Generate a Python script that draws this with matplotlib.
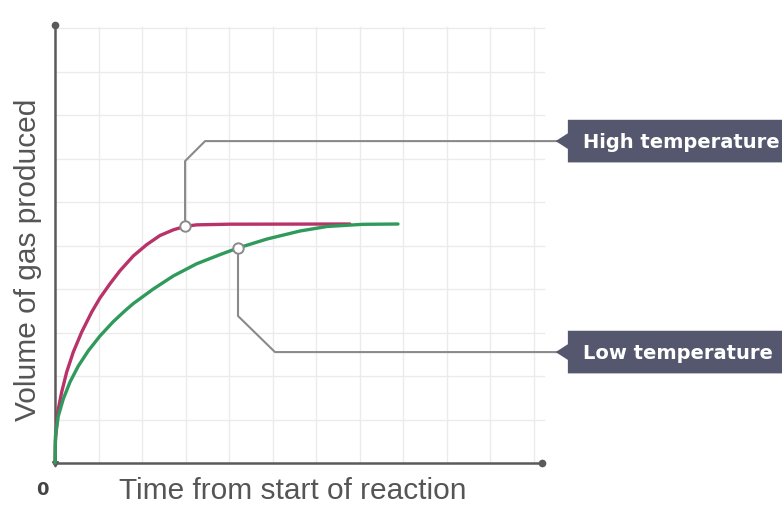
import matplotlib
matplotlib.use("Agg")
import matplotlib.pyplot as plt
from matplotlib.patches import Polygon

# Time (grid units) and gas volume (grid units) for each reaction rate
time_high = [0.0, 0.01, 0.062, 0.154, 0.269, 0.421, 0.614, 0.844, 1.034, 1.264, 1.494,
             1.80, 2.108, 2.414, 2.72, 2.99, 3.257, 4.02, 6.78]
vol_high = [0.0, 0.50, 1.166, 1.632, 2.092, 2.552, 3.011, 3.471, 3.794, 4.12, 4.42,
            4.76, 5.02, 5.23, 5.36, 5.44, 5.475, 5.49, 5.494]

time_low = [0.0, 0.003, 0.005, 0.01, 0.076, 0.19, 0.345, 0.536, 0.766, 1.034, 1.34,
            1.609, 1.80, 2.26, 2.72, 3.257, 3.793, 4.207, 4.874, 5.632, 6.253, 7.08, 7.885]
vol_low = [0.0, 0.10, 0.39, 0.62, 1.08, 1.47, 1.862, 2.23, 2.58, 2.92, 3.25,
           3.50, 3.665, 4.00, 4.30, 4.58, 4.79, 4.943, 5.149, 5.333, 5.437, 5.487, 5.494]

# Highlighted points and their callout labels
label_high = "High temperature"
label_low = "Low temperature"
point_high = (2.99, 5.44)
point_low = (4.207, 4.943)

x_label = "Time from start of reaction"
y_label = "Volume of gas produced"
origin_label = "0"

n_xgrid = 11
n_ygrid = 10

RED = "#b8336a"
GREEN = "#2f9a5c"
AXIS = "#5a5a5a"
GRID = "#ebebeb"
LEADER = "#8a8a8a"
BOX = "#55576f"

fig = plt.figure(figsize=(7.82, 5.06), dpi=100)
ax = fig.add_axes([0, 0, 1, 1])
ax.set_xlim(-55 / 43.5, (782 - 55) / 43.5)
ax.set_ylim((464 - 506) / 43.5, 464 / 43.5)
ax.axis("off")

x_end = 11.2
y_end = 10.07

# background grid
for i in range(1, n_xgrid + 1):
    ax.plot([i, i], [0, y_end - 0.05], color=GRID, lw=1.0, zorder=0)
for j in range(1, n_ygrid + 1):
    ax.plot([0, x_end + 0.05], [j, j], color=GRID, lw=1.0, zorder=0)

# axes with dot ends
ax.plot([0, x_end], [0, 0], color=AXIS, lw=1.8, zorder=2, solid_capstyle="round")
ax.plot([0, 0], [0, y_end], color=AXIS, lw=1.8, zorder=2, solid_capstyle="round")
ax.plot([x_end], [0], "o", color=AXIS, ms=4.5, zorder=3)
ax.plot([0], [y_end], "o", color=AXIS, ms=4.5, zorder=3)
ax.plot([0], [0], marker=(3, 0, 180), color=AXIS, ms=5, zorder=3)

# curves
ax.plot(time_high, vol_high, color=RED, lw=2.4, zorder=4,
        solid_capstyle="round", solid_joinstyle="round")
ax.plot(time_low, vol_low, color=GREEN, lw=2.4, zorder=5,
        solid_capstyle="round", solid_joinstyle="round")

# leader lines
hx, hy = point_high
ax.plot([hx, hx, hx + 0.46, 11.55], [hy, 6.94, 7.40, 7.40], color=LEADER, lw=1.5, zorder=3)
lx, ly = point_low
ax.plot([lx, lx, lx + 0.85, 11.55], [ly, 3.38, 2.55, 2.55], color=LEADER, lw=1.5, zorder=3)

# markers
for (px, py) in (point_high, point_low):
    ax.plot([px], [py], "o", ms=7.5, mfc="white", mec=LEADER, mew=1.4, zorder=6)


def callout(yc, text):
    half = 0.49
    left = 11.79
    right = 17.5
    notch = 0.18
    verts = [(left, yc + half), (right, yc + half), (right, yc - half), (left, yc - half),
             (left, yc - notch), (left - 0.28, yc), (left, yc + notch)]
    ax.add_patch(Polygon(verts, closed=True, facecolor=BOX, edgecolor="none", zorder=7))
    ax.text(12.13, yc, text, color="white", fontsize=14, fontweight="bold",
            family="DejaVu Sans", va="center", ha="left", zorder=8)


callout(7.40, label_high)
callout(2.55, label_low)

# axis labels
ax.text(5.47, -0.62, x_label, fontsize=21.5, color="#555555", family="Liberation Sans",
        ha="center", va="center")
ax.text(-0.62, 4.7, y_label, fontsize=21.5, color="#555555", family="Liberation Sans",
        ha="center", va="center", rotation=90)
ax.text(-0.30, -0.60, origin_label, fontsize=13, color="#444444", fontweight="bold",
        family="DejaVu Sans", ha="center", va="center")

fig.savefig("out.png", dpi=100, facecolor="white")
